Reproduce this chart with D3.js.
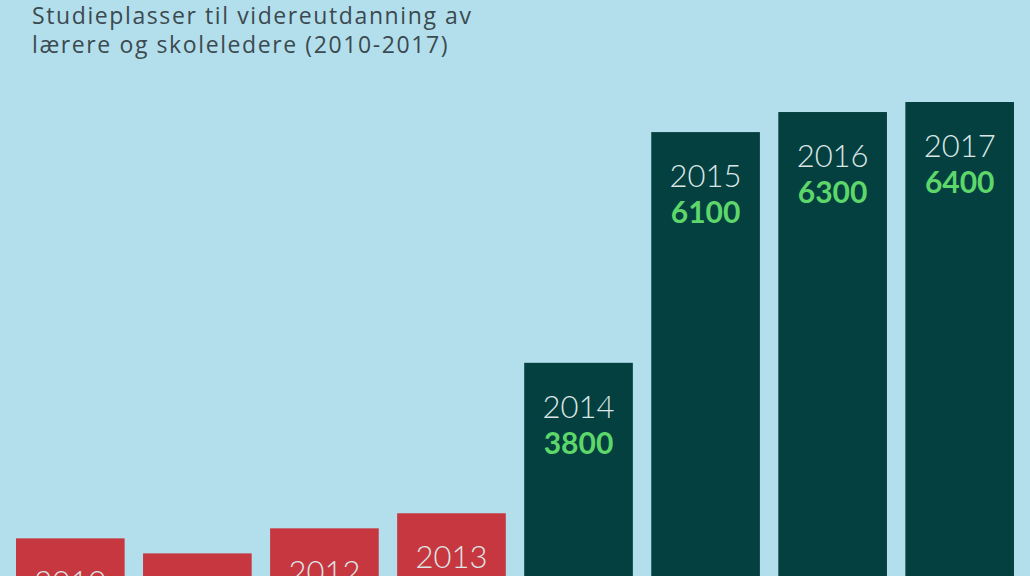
<!DOCTYPE html>
<html><head><meta charset="utf-8">
<script src="https://cdn.jsdelivr.net/npm/d3@7"></script>
<style>
html,body{margin:0;padding:0;background:#b3dfec;overflow:hidden;}
svg{display:block;}
</style></head>
<body>
<svg id="c" width="1030" height="576"></svg>
<script>
const titleLines = ["Studieplasser til videreutdanning av", "lærere og skoleledere (2010-2017)"];
const years = ["2010","2011","2012","2013","2014","2015","2016","2017"];
const values = [2050, 1900, 2150, 2300, 3800, 6100, 6300, 6400];
const groups = ["old","old","old","old","new","new","new","new"];

const W = 1030, H = 576;
const svg = d3.select("#c");
svg.append("rect").attr("width", W).attr("height", H).attr("fill", "#b3dfec");

const x = d3.scaleBand().domain(years).range([16, 1014]).paddingInner(0.145).paddingOuter(0);
const y = d3.scaleLinear().domain([0, 6400]).range([744, 102]);
const color = d3.scaleOrdinal().domain(["old","new"]).range(["#c6373f","#03403f"]);

const data = years.map((yr, i) => ({year: yr, value: values[i], group: groups[i]}));

const g = svg.append("g");
g.selectAll("rect.bar").data(data).join("rect")
  .attr("class","bar")
  .attr("x", d => x(d.year))
  .attr("y", d => y(d.value))
  .attr("width", x.bandwidth())
  .attr("height", d => y(0) - y(d.value))
  .attr("fill", d => color(d.group));

g.selectAll("text.yr").data(data).join("text")
  .attr("class","yr")
  .attr("x", d => x(d.year) + x.bandwidth()/2)
  .attr("y", d => y(d.value) + 55)
  .attr("text-anchor","middle")
  .attr("font-family","Lato, 'Noto Sans', sans-serif")
  .attr("font-weight", 300)
  .attr("font-size", 31)
  .attr("fill", "#dce6e6")
  .text(d => d.year);

g.selectAll("text.val").data(data).join("text")
  .attr("class","val")
  .attr("x", d => x(d.year) + x.bandwidth()/2)
  .attr("y", d => y(d.value) + 91)
  .attr("text-anchor","middle")
  .attr("font-family","Lato, 'Noto Sans', sans-serif")
  .attr("font-weight", 700)
  .attr("font-size", 30)
  .attr("fill", d => d.group === "new" ? "#5ed76a" : "#e9d2d4")
  .text(d => d.value);

svg.append("g").selectAll("text").data(titleLines).join("text")
  .attr("x", 32)
  .attr("y", (d, i) => 24 + i * 29)
  .attr("font-family","'Open Sans', 'Noto Sans', sans-serif")
  .attr("font-size", 23)
  .attr("letter-spacing", 1.6)
  .attr("fill", "#3b4a50")
  .text(d => d);
</script>
</body></html>
